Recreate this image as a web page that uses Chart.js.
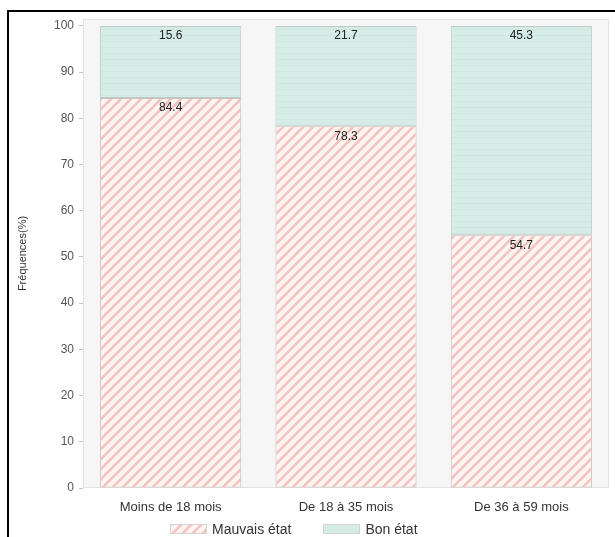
<!DOCTYPE html>
<html lang="fr">
<head>
<meta charset="utf-8">
<title>Fréquences par âge</title>
<script src="https://cdn.jsdelivr.net/npm/chart.js@4"></script>
<style>
  html, body { margin: 0; padding: 0; background: #fff; overflow: hidden; }
  body { width: 615px; height: 537px; position: relative; font-family: 'Liberation Sans', Arial, sans-serif; }
  .frame { position: absolute; left: 7px; top: 10px; width: 700px; height: 600px;
           border-left: 2px solid #000; border-top: 2px solid #000; }
  .wrap { position: absolute; left: 0; top: 0; width: 615px; height: 537px; }
  .legend { position: absolute; top: 521px; left: 170px; display: flex; align-items: center;
            font-size: 14px; color: #333; }
  .legend-item { display: flex; align-items: center; }
  .legend-item canvas { display: block; border: 1px solid #d4d4d4; box-sizing: border-box; }
  .legend-item span { margin-left: 5px; }
  .legend-item + .legend-item { margin-left: 32px; }
</style>
</head>
<body>
<div class="frame"></div>
<div class="wrap"><canvas id="chart" width="615" height="537"></canvas></div>
<div class="legend" id="legend"></div>

<script>
'use strict';

/* ─── Data ─────────────────────────────────────────────────── */
const CATEGORIES = ['Moins de 18 mois', 'De 18 à 35 mois', 'De 36 à 59 mois'];
const SERIES     = ['Mauvais état', 'Bon état'];
const MAUVAIS    = [84.4, 78.3, 54.7];
const BON        = [15.6, 21.7, 45.3];
const Y_TICKS    = [0, 10, 20, 30, 40, 50, 60, 70, 80, 90, 100];

/* ─── Fill patterns ────────────────────────────────────────── */
function hatchPattern(ctx) {
  const c = document.createElement('canvas');
  c.width = 10; c.height = 10;
  const p = c.getContext('2d');
  p.fillStyle = '#fdf5f1';
  p.fillRect(0, 0, 10, 10);
  p.strokeStyle = '#f4c3bf';
  p.lineWidth = 2.6;
  p.beginPath();
  p.moveTo(-2, 12); p.lineTo(12, -2);
  p.moveTo(-2, 2);  p.lineTo(2, -2);
  p.moveTo(8, 12);  p.lineTo(12, 8);
  p.stroke();
  return ctx.createPattern(c, 'repeat');
}

function tealPattern(ctx) {
  const c = document.createElement('canvas');
  c.width = 8; c.height = 6;
  const p = c.getContext('2d');
  p.fillStyle = '#d6ece6';
  p.fillRect(0, 0, 8, 6);
  p.fillStyle = '#d0e6df';
  p.fillRect(0, 5, 8, 1);
  return ctx.createPattern(c, 'repeat');
}

const canvas = document.getElementById('chart');
const ctx    = canvas.getContext('2d');
const FILLS  = [hatchPattern(ctx), tealPattern(ctx)];

/* ─── Plugins ──────────────────────────────────────────────── */
const plotBg = {
  id: 'plotBg',
  beforeDraw(chart) {
    const { ctx, chartArea: a } = chart;
    ctx.save();
    ctx.fillStyle = '#f6f6f6';
    ctx.fillRect(a.left, a.top, a.right - a.left, a.bottom - a.top);
    ctx.strokeStyle = '#e2e2e2';
    ctx.lineWidth = 1;
    ctx.strokeRect(a.left + 0.5, a.top + 0.5, a.right - a.left - 1, a.bottom - a.top - 1);
    ctx.restore();
  },
};

const barLabels = {
  id: 'barLabels',
  afterDatasetsDraw(chart) {
    const { ctx } = chart;
    ctx.save();
    ctx.font = "12px 'Liberation Sans', Arial, sans-serif";
    ctx.fillStyle = '#222';
    ctx.textAlign = 'center';
    ctx.textBaseline = 'middle';
    chart.data.datasets.forEach((ds, i) => {
      chart.getDatasetMeta(i).data.forEach((bar, j) => {
        ctx.fillText(ds.data[j].toFixed(1), bar.x, bar.y + 10);
      });
    });
    ctx.restore();
  },
};

/* ─── Chart ────────────────────────────────────────────────── */
new Chart(ctx, {
  type: 'bar',
  data: {
    labels: CATEGORIES,
    datasets: [
      { label: SERIES[0], data: MAUVAIS, backgroundColor: FILLS[0],
        borderColor: '#cdbfbc', borderWidth: 1, borderSkipped: false },
      { label: SERIES[1], data: BON, backgroundColor: FILLS[1],
        borderColor: '#bccac6', borderWidth: 1, borderSkipped: false },
    ],
  },
  options: {
    responsive: false,
    animation: false,
    devicePixelRatio: 1,
    layout: { padding: { top: 19, right: 6, bottom: 19, left: 0 } },
    datasets: { bar: { barPercentage: 0.805, categoryPercentage: 1 } },
    plugins: {
      legend: { display: false },
      tooltip: { enabled: false },
    },
    scales: {
      x: {
        stacked: true,
        grid: { display: false, drawTicks: false },
        border: { display: false },
        ticks: { color: '#333', padding: 12, font: { size: 13, family: "'Liberation Sans', Arial, sans-serif" } },
        afterFit: s => { s.height = 30; },
      },
      y: {
        stacked: true,
        min: 0,
        max: 101.5,
        afterBuildTicks: s => { s.ticks = Y_TICKS.map(v => ({ value: v })); },
        grid: { drawOnChartArea: false, drawTicks: true, tickLength: 4, color: '#c4c4c4' },
        border: { display: false },
        ticks: { color: '#555', padding: 5, font: { size: 12, family: "'Liberation Sans', Arial, sans-serif" } },
        title: {
          display: true,
          text: 'Fréquences(%)',
          color: '#333',
          padding: { top: 16, bottom: 0 },
          font: { size: 11, family: "'Liberation Sans', Arial, sans-serif" },
        },
        afterFit: s => { s.width = 83; },
      },
    },
  },
  plugins: [plotBg, barLabels],
});

/* ─── Legend (HTML, same fills) ────────────────────────────── */
const legend = document.getElementById('legend');
SERIES.forEach((name, i) => {
  const item = document.createElement('div');
  item.className = 'legend-item';
  const sw = document.createElement('canvas');
  sw.width = 35; sw.height = 8;
  const sctx = sw.getContext('2d');
  sctx.fillStyle = i === 0 ? hatchPattern(sctx) : tealPattern(sctx);
  sctx.fillRect(0, 0, 35, 8);
  const label = document.createElement('span');
  label.textContent = name;
  item.appendChild(sw);
  item.appendChild(label);
  legend.appendChild(item);
});
</script>
</body>
</html>
